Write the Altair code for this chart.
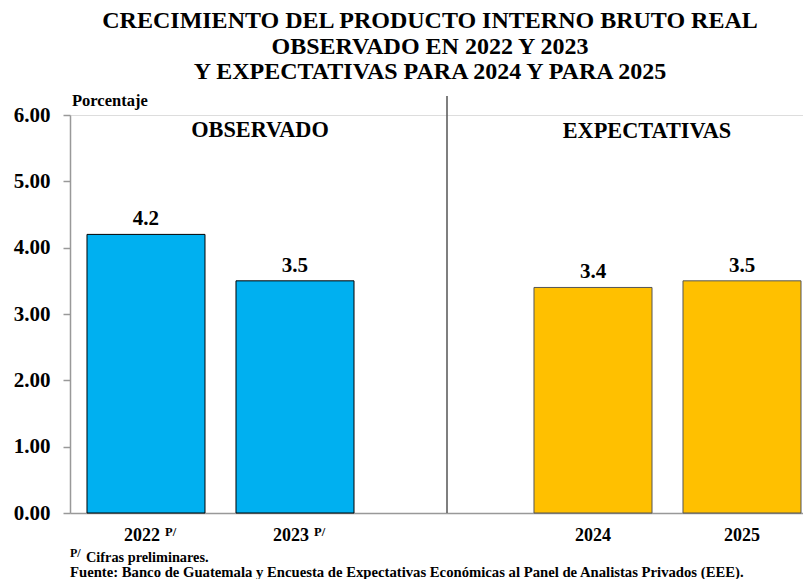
import altair as alt
import pandas as pd

# ---- data ----
categorias = ["2022", "2023", "2024", "2025"]
valores = [4.2, 3.5, 3.4, 3.5]
grupos = ["Observado", "Observado", "Expectativas", "Expectativas"]
preliminar = [True, True, False, False]
dominio_x = ["2022", "2023", " ", "2024", "2025"]
ticks_y = [0, 1, 2, 3, 4, 5, 6]
titulo = [
    "CRECIMIENTO DEL PRODUCTO INTERNO BRUTO REAL",
    "OBSERVADO EN 2022 Y 2023",
    "Y EXPECTATIVAS PARA 2024 Y PARA 2025",
]
eje_y_titulo = "Porcentaje"
seccion_obs = "OBSERVADO"
seccion_exp = "EXPECTATIVAS"
nota_sup = "P/"
nota_1 = "Cifras preliminares."
nota_2 = "Fuente: Banco de Guatemala y Encuesta de Expectativas Económicas al Panel de Analistas Privados (EEE)."

df = pd.DataFrame({"anio": categorias, "valor": valores, "grupo": grupos, "prelim": preliminar})
anno = pd.DataFrame({"k": [0]})

W, H = 733, 398
FONT = "'Liberation Serif', 'Times New Roman', Times, serif"

xscale = alt.Scale(domain=dominio_x, paddingInner=0.208, paddingOuter=0.0637, align=0.895)
x_enc = alt.X(
    "anio:N", scale=xscale, sort=dominio_x,
    axis=alt.Axis(title=None, labels=False, ticks=False,
                  domainColor="#999999", domainWidth=1.5),
)
y_enc = alt.Y(
    "valor:Q", scale=alt.Scale(domain=[0, 6], nice=False),
    axis=alt.Axis(
        title=None, values=ticks_y, format=".2f", grid=False, tickSize=7,
        tickColor="#999999", domainColor="#999999", domainWidth=1.5, tickWidth=1.5,
        labelPadding=13, labelFontSize=21, labelFont=FONT, labelFontWeight="bold",
        labelColor="black",
    ),
)
x_plain = alt.X("anio:N", scale=xscale, sort=dominio_x)

bars = alt.Chart(df).mark_bar(strokeWidth=1).encode(
    x=x_enc,
    y=y_enc,
    color=alt.Color("grupo:N", scale=alt.Scale(domain=["Observado", "Expectativas"],
                                               range=["#00B0F0", "#FFC000"]), legend=None),
    stroke=alt.condition("datum.grupo == 'Observado'", alt.value("#000000"), alt.value("#555555")),
)

labels = alt.Chart(df).mark_text(
    dy=-9, baseline="alphabetic", fontSize=21, font=FONT, fontWeight="bold", color="black"
).encode(x=x_plain, y=alt.Y("valor:Q"), text=alt.Text("valor:Q", format=".1f"))

# x-axis category labels (preliminary years shifted left to leave room for "P/")
xlab_prelim = alt.Chart(df).transform_filter("datum.prelim").mark_text(
    dx=-4, baseline="alphabetic", fontSize=18, font=FONT, fontWeight="bold", color="black"
).encode(x=x_plain, y=alt.value(H + 28), text="anio:N")
xlab_exp = alt.Chart(df).transform_filter("!datum.prelim").mark_text(
    baseline="alphabetic", fontSize=18, font=FONT, fontWeight="bold", color="black"
).encode(x=x_plain, y=alt.value(H + 28), text="anio:N")

sup = alt.Chart(df).transform_filter("datum.prelim").mark_text(
    align="left", baseline="alphabetic", dx=19, fontSize=12.5, font=FONT, fontWeight="bold", color="black"
).encode(x=x_plain, y=alt.value(H + 23), text=alt.value(nota_sup))

def txt(text, x, y, size, align="center", weight="bold", lh=None):
    kw = dict(align=align, baseline="alphabetic", fontSize=size, font=FONT,
              fontWeight=weight, color="black")
    if lh is not None:
        kw["lineHeight"] = lh
    return alt.Chart(anno).mark_text(**kw).encode(
        x=alt.value(x), y=alt.value(y), text=alt.value(text))

title_layer = txt(titulo, 360, -87, 24, lh=25.5)
porc = txt(eje_y_titulo, 2, -9, 16.5, align="left")
obs = txt(seccion_obs, 190, 22, 22.3)
exp_ = txt(seccion_exp, 577, 23, 22.3)
f_sup = txt(nota_sup, 0, 442, 12, align="left")
f1 = txt(nota_1, 16, 447, 14.3, align="left")
f2 = txt(nota_2, 0, 462, 14.7, align="left")

divider = alt.Chart(anno).mark_rule(color="#555555", strokeWidth=1.5).encode(
    x=alt.value(377), y=alt.value(-19), y2=alt.value(H))

chart = alt.layer(
    bars, labels, xlab_prelim, xlab_exp, sup, divider, title_layer, porc, obs, exp_, f_sup, f1, f2
).properties(
    width=W, height=H,
    autosize=alt.AutoSizeParams(type="none"),
    padding={"left": 62, "top": 107, "right": 0, "bottom": 66},
).configure_view(stroke=None).configure(background="white")

chart.save("out.html", embed_options={"renderer": "svg", "actions": False})
